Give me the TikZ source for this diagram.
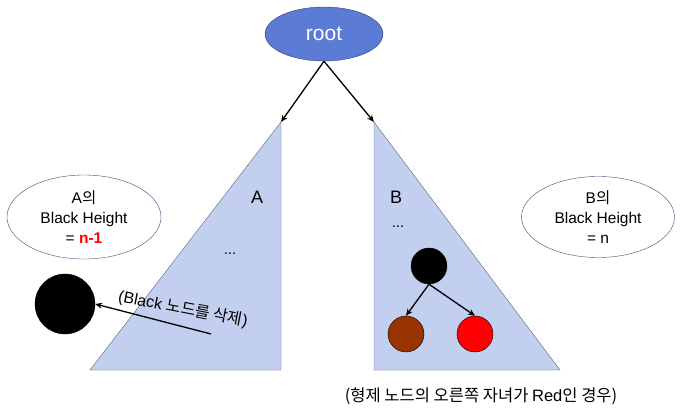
\documentclass[tikz,border=0pt]{standalone}
\usepackage{fontspec}
\setmainfont{Liberation Sans}
\newfontfamily\kofont{Noto Sans CJK KR}
\usepackage{tikz}
\usetikzlibrary{shapes.geometric,arrows.meta}
\definecolor{rootblue}{HTML}{5B7BD5}
\definecolor{rootedge}{HTML}{2E3E6E}
\definecolor{treeblue}{HTML}{C3CFEE}
\definecolor{treeedge}{HTML}{55647F}
\definecolor{noteedge}{HTML}{3E4C7A}
\definecolor{brownnode}{HTML}{993300}

\begin{document}
\begin{tikzpicture}[x=1pt, y=-1pt, >={Stealth[length=7pt, width=6pt]}]
    \useasboundingbox (0,0) rectangle (680,414);

    % Root of the tree
    \node(root)[
        ellipse,
        draw=rootedge,
        fill=rootblue,
        text=white,
        minimum width=118pt,
        minimum height=54pt,
        inner sep=0pt,
        font=\fontsize{21}{24}\selectfont
    ] at (324,34) {root};

    % Subtrees A and B (right-angled triangles)
    \coordinate (topA) at (281,122);
    \coordinate (topB) at (374,122);
    \filldraw[fill=treeblue, draw=treeedge, thin] (topA) -- (281,370) -- (90,370) -- cycle;
    \filldraw[fill=treeblue, draw=treeedge, thin] (topB) -- (374,370) -- (560,370) -- cycle;

    \draw[->, line width=1.3pt] (root.south) -- (topA);
    \draw[->, line width=1.3pt] (root.south) -- (topB);

    \node(nameA)[font=\fontsize{18}{20}\selectfont] at (257,197) {A};
    \node(nameB)[font=\fontsize{18}{20}\selectfont] at (396,197) {B};
    \node(dotsA)[font=\fontsize{15}{18}\selectfont] at (230,254) {...};
    \node(dotsB)[font=\fontsize{15}{18}\selectfont] at (398,227) {...};

    % Black heights of both sides
    \node(noteA)[
        ellipse,
        draw=noteedge,
        fill=white,
        minimum width=154pt,
        minimum height=84pt,
        inner sep=0pt,
        align=center,
        font=\fontsize{15.5}{20}\selectfont
    ] at (84,217) {A{\kofont 의}\\Black Height\\= {\color{red}\bfseries n-1}};

    \node(noteB)[
        ellipse,
        draw=noteedge,
        fill=white,
        minimum width=153pt,
        minimum height=81pt,
        inner sep=0pt,
        align=center,
        font=\fontsize{15.5}{20}\selectfont
    ] at (598,217) {B{\kofont 의}\\Black Height\\= n};

    % Deleted black node, pulled out of A
    \node(gone)[circle, draw, fill=black, minimum size=60pt, inner sep=0pt] at (65,304) {};
    \coordinate (pullA) at (211,334);
    \draw[->, line width=1.3pt] (pullA) -- (gone.east);
    \node(delnote)[rotate=-11, font=\fontsize{16}{18}\selectfont] at (183,309)
        {(Black {\kofont 노드를 삭제})};

    % Sibling in B with its two children
    \node(sib)[circle, draw, fill=black, minimum size=36pt, inner sep=0pt] at (429,266) {};
    \node(sibL)[circle, draw, fill=brownnode, minimum size=36pt, inner sep=0pt] at (406,334) {};
    \node(sibR)[circle, draw, fill=red, minimum size=36pt, inner sep=0pt] at (475,334) {};
    \draw[->, line width=1.3pt] (sib.south) -- (sibL.north);
    \draw[->, line width=1.3pt] (sib.south) -- (sibR.north);

    \node(case)[font=\fontsize{16.5}{18}\selectfont] at (481,396)
        {{\kofont (형제 노드의 오른쪽 자녀가 }Red{\kofont 인 경우)}};

\end{tikzpicture}
\end{document}
